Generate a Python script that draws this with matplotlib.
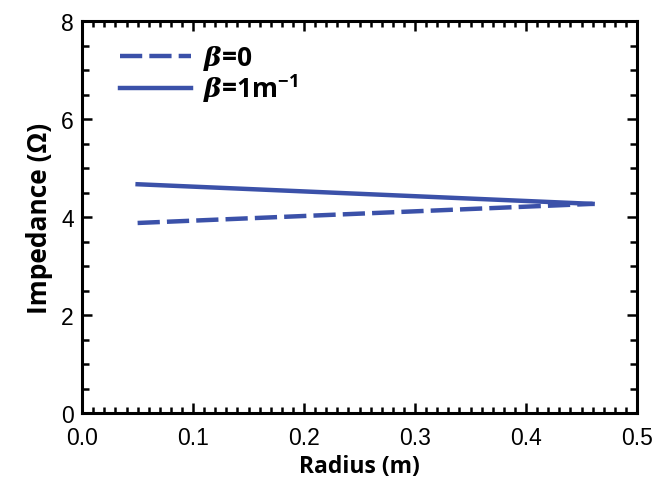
import matplotlib
matplotlib.use("Agg")
import matplotlib.pyplot as plt
from matplotlib.ticker import MultipleLocator

radius = [0.05, 0.46]
z_beta0 = [3.88, 4.27]
z_beta1 = [4.67, 4.27]

color = "#3b51a9"
plt.rcParams['font.family'] = ['Liberation Sans', 'DejaVu Sans']
plt.rcParams['mathtext.fontset'] = 'custom'
plt.rcParams['mathtext.it'] = 'DejaVu Serif:italic:bold'
plt.rcParams['mathtext.rm'] = 'Open Sans:bold'

fig = plt.figure(figsize=(6.57, 4.89), dpi=100)
ax = fig.add_axes([0.125, 0.153, 0.8446, 0.802])

ax.plot(radius, z_beta0, color=color, lw=3.2, ls=(0, (5, 1.6)), label=r"$\beta$=0")
ax.plot(radius, z_beta1, color=color, lw=3.2, label=r"$\beta$=1m$^{\mathregular{-1}}$")

ax.set_xlim(0, 0.5)
ax.set_ylim(0, 8)
ax.xaxis.set_major_locator(MultipleLocator(0.1))
ax.xaxis.set_minor_locator(MultipleLocator(0.01))
ax.yaxis.set_major_locator(MultipleLocator(2))
ax.yaxis.set_minor_locator(MultipleLocator(0.5))
ax.xaxis.set_major_formatter(matplotlib.ticker.FormatStrFormatter('%.1f'))

ax.tick_params(which='both', direction='in', top=True, right=True, width=1.8,
               labelsize=16.5)
ax.tick_params(axis='x', which='both', pad=9)
ax.tick_params(axis='y', which='both', pad=6)
ax.tick_params(which='major', length=7)
ax.tick_params(which='minor', length=4)
ax.tick_params(axis='y', which='minor', length=5)
for s in ax.spines.values():
    s.set_linewidth(2.2)

ax.set_xlabel("Radius (m)", fontsize=16.5, fontweight='bold', family='Open Sans', labelpad=4)
ax.set_ylabel("Impedance (\u03a9)", fontsize=19, fontweight='bold', family='Open Sans', labelpad=6)

leg = ax.legend(loc='upper left', bbox_to_anchor=(0.025, 1.005), frameon=False,
                handlelength=2.7, handletextpad=0.45, labelspacing=0.0,
                prop={'family': 'Open Sans', 'weight': 'bold', 'size': 19})

fig.savefig("out.png", dpi=100)
